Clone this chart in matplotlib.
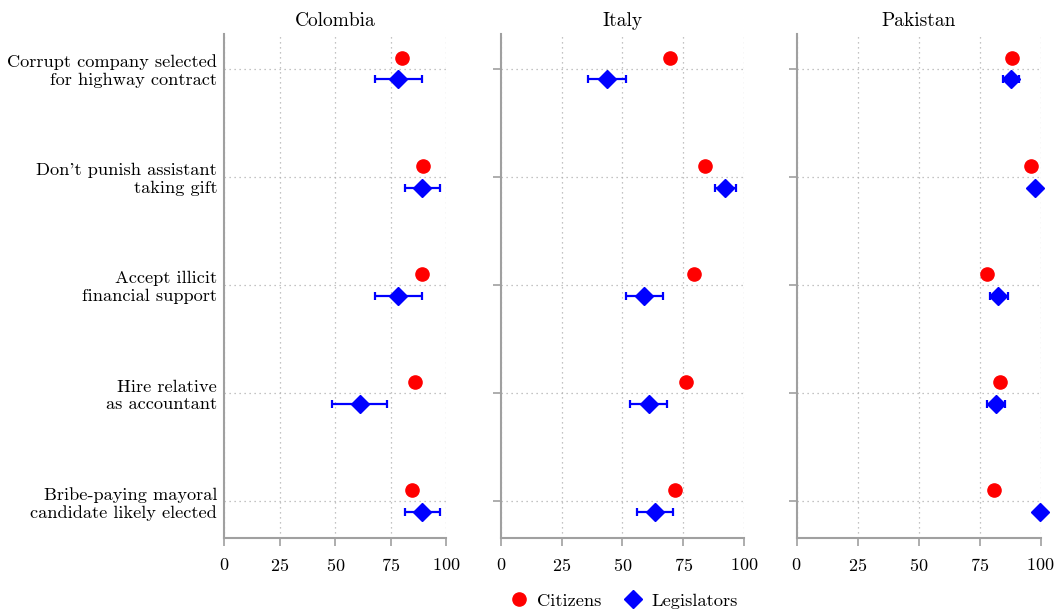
import matplotlib
matplotlib.use('Agg')
import matplotlib.pyplot as plt
from matplotlib.lines import Line2D
import numpy as np

plt.rcParams['font.family'] = ['cmr10', 'DejaVu Serif']
plt.rcParams['axes.formatter.use_mathtext'] = True

# Scenario labels, top to bottom
scenarios = ["Corrupt company selected\nfor highway contract",
             "Don't punish assistant\ntaking gift",
             "Accept illicit\nfinancial support",
             "Hire relative\nas accountant",
             "Bribe-paying mayoral\ncandidate likely elected"]

countries = ["Colombia", "Italy", "Pakistan"]

# Percent judging the act as corrupt / harmful
colombia_citizens = [80.2, 89.4, 88.8, 86.0, 84.4]
colombia_legislators = [78.3, 89.1, 78.3, 61.0, 89.1]
colombia_leg_lo = [67.8, 81.3, 67.8, 48.6, 81.2]
colombia_leg_hi = [88.8, 97.2, 88.8, 73.2, 97.3]

italy_citizens = [69.5, 84.0, 79.6, 76.1, 71.8]
italy_legislators = [43.6, 92.2, 58.9, 60.8, 63.3]
italy_leg_lo = [35.9, 88.1, 51.4, 53.1, 55.9]
italy_leg_hi = [51.4, 96.6, 66.6, 68.4, 70.8]

pakistan_citizens = [88.4, 95.9, 78.1, 83.2, 81.0]
pakistan_legislators = [87.8, 97.5, 82.7, 81.7, 99.6]
pakistan_leg_lo = [84.7, 96.9, 79.1, 77.9, 99.2]
pakistan_leg_hi = [91.3, 98.1, 86.5, 85.5, 100.0]

xticks = [0, 25, 50, 75, 100]

panels = [
    (colombia_citizens, colombia_legislators, colombia_leg_lo, colombia_leg_hi),
    (italy_citizens, italy_legislators, italy_leg_lo, italy_leg_hi),
    (pakistan_citizens, pakistan_legislators, pakistan_leg_lo, pakistan_leg_hi),
]

fig = plt.figure(figsize=(10.59, 6.16), dpi=100)
rects = [[0.2115, 0.1266, 0.2101, 0.8182],
         [0.4728, 0.1266, 0.2297, 0.8182],
         [0.7523, 0.1266, 0.2304, 0.8182]]

ypos = np.arange(1, len(scenarios) + 1)
spine_col = '#a0a0a0'

for i, (rect, name, (cit, leg, lo, hi)) in enumerate(zip(rects, countries, panels)):
    ax = fig.add_axes(rect)
    leg = np.array(leg)
    err = np.vstack([leg - np.array(lo), np.array(hi) - leg])

    ax.plot(cit, ypos - 0.1, 'o', color='#ff0000', markersize=9.5,
            zorder=3, clip_on=False)
    ax.errorbar(leg, ypos + 0.1, xerr=err, fmt='D', color='#0000ff',
                markersize=9, elinewidth=1.6, capsize=3, capthick=1.6,
                zorder=3, clip_on=False)

    ax.set_xlim(0, 100)
    ax.set_ylim(5.34, 0.68)
    ax.set_xticks(xticks)
    ax.set_yticks(ypos)
    if i == 0:
        ax.set_yticklabels(scenarios, fontsize=13.2, ha='right',
                           multialignment='right')
        ax.tick_params(axis='y', length=0, pad=5)
    else:
        ax.set_yticklabels([])
        ax.tick_params(axis='y', length=6, width=1.2, color=spine_col)

    ax.grid(True, linestyle=(0, (1, 3)), color='#b0b0b0', linewidth=0.9)
    ax.set_axisbelow(True)
    for s in ['top', 'right']:
        ax.spines[s].set_visible(False)
    for s in ['left', 'bottom']:
        ax.spines[s].set_color(spine_col)
        ax.spines[s].set_linewidth(1.5)
    ax.tick_params(axis='x', length=6, width=1.2, color=spine_col,
                   labelsize=13, pad=8)
    ax.set_title(name, fontsize=14, pad=6)

handles = [Line2D([], [], marker='o', color='#ff0000', linestyle='none', markersize=9.5),
           Line2D([], [], marker='D', color='#0000ff', linestyle='none', markersize=9)]
fig.legend(handles, ['Citizens', 'Legislators'], loc='center',
           bbox_to_anchor=(0.589, 0.025), ncol=2, frameon=False, fontsize=13.3,
           handlelength=1.0, handletextpad=0.5, columnspacing=1.2)

fig.savefig('out.png', dpi=100)
